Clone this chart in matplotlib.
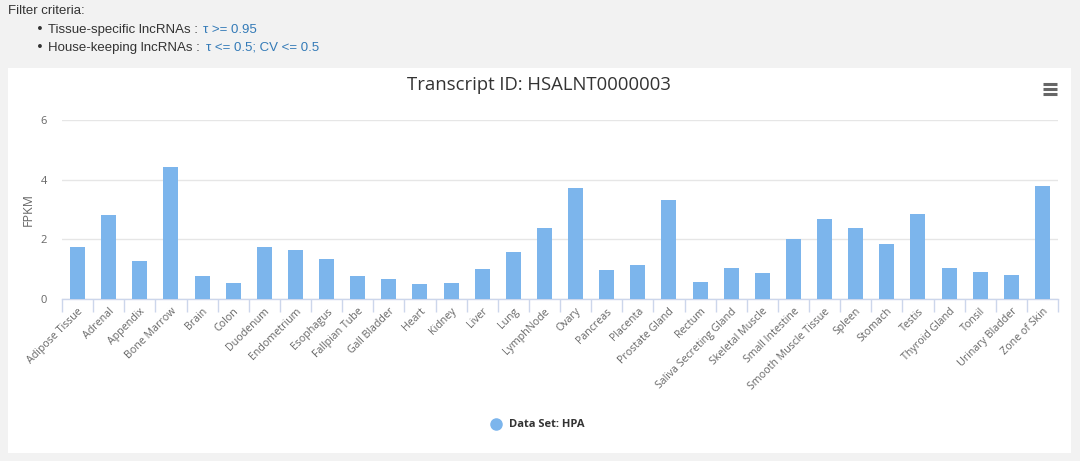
import matplotlib
matplotlib.use("Agg")
import matplotlib.pyplot as plt
from matplotlib.patches import Rectangle
from matplotlib.lines import Line2D
import numpy as np

categories = ["Adipose Tissue", "Adrenal", "Appendix", "Bone Marrow", "Brain", "Colon",
              "Duodenum", "Endometrium", "Esophagus", "Fallpian Tube", "Gall Bladder", "Heart",
              "Kidney", "Liver", "Lung", "LymphNode", "Ovary", "Pancreas", "Placenta",
              "Prostate Gland", "Rectum", "Saliva Secreting Gland", "Skeletal Muscle",
              "Small Intestine", "Smooth Muscle Tissue", "Spleen", "Stomach", "Testis",
              "Thyroid Gland", "Tonsil", "Urinary Bladder", "Zone of Skin"]
fpkm = [1.75, 2.82, 1.28, 4.43, 0.77, 0.54, 1.74, 1.64, 1.34, 0.77, 0.67, 0.50,
        0.54, 1.00, 1.58, 2.38, 3.72, 0.97, 1.14, 3.32, 0.57, 1.04, 0.87, 2.01,
        2.68, 2.38, 1.84, 2.85, 1.04, 0.90, 0.80, 3.79]
yticks = [0, 2, 4, 6]
series_name = "Data Set: HPA"
title = "Transcript ID: HSALNT0000003"

W, H = 1080, 461
fig = plt.figure(figsize=(W / 100, H / 100), dpi=100)
fig.patch.set_facecolor("#f2f2f2")

# white panel
fig.patches.append(Rectangle((8 / W, 1 - 453 / H), (1071 - 8) / W, (453 - 68) / H,
                             transform=fig.transFigure, facecolor="white", edgecolor="none",
                             zorder=-10))

# filter criteria text
fig.text(8 / W, 1 - 11 / H, "Filter criteria:", fontsize=9.5, color="#333333", va="center",
         family="Liberation Sans")
fig.text(36 / W, 1 - 30 / H, "•", fontsize=9.5, color="#333333", va="center", family="DejaVu Sans")
fig.text(36 / W, 1 - 48 / H, "•", fontsize=9.5, color="#333333", va="center", family="DejaVu Sans")
fig.text(48 / W, 1 - 30 / H, "Tissue-specific lncRNAs :", fontsize=9.5, color="#333333",
         va="center", family="Liberation Sans")
fig.text(48 / W, 1 - 48 / H, "House-keeping lncRNAs :", fontsize=9.5, color="#333333",
         va="center", family="Liberation Sans")
fig.text(203 / W, 1 - 30 / H, "τ >= 0.95", fontsize=9.5, color="#337ab7", va="center",
         family=["Liberation Sans", "DejaVu Sans"])
fig.text(206 / W, 1 - 48 / H, "τ <= 0.5; CV <= 0.5", fontsize=9.5, color="#337ab7", va="center",
         family=["Liberation Sans", "DejaVu Sans"])

# title
fig.text(539 / W, 1 - 85 / H, title, fontsize=13.3, color="#333333", ha="center", va="center",
         family="Open Sans")

# hamburger icon
for yy in (84, 89, 94):
    fig.lines.append(Line2D([1043 / W, 1057 / W], [1 - yy / H, 1 - yy / H], transform=fig.transFigure,
                            color="#666666", linewidth=2.2, solid_capstyle="butt"))

left, right = 62 / W, 1058 / W
bottom, top = 1 - 299 / H, 1 - 120 / H
ax = fig.add_axes([left, bottom, right - left, top - bottom])
ax.set_facecolor("white")
x = np.arange(len(categories))
ax.bar(x, fpkm, width=0.48, color="#7cb5ec", zorder=3)
ax.set_xlim(-0.5, len(categories) - 0.5)
ax.set_ylim(0, 6)
ax.set_yticks(yticks)
ax.set_yticklabels([str(v) for v in yticks], fontsize=8, color="#666666", family="Open Sans")
ax.tick_params(axis="y", length=0, pad=11)
ax.grid(axis="y", color="#e6e6e6", linewidth=1, zorder=0)
for s in ("top", "right", "left"):
    ax.spines[s].set_visible(False)
ax.spines["bottom"].set_color("#ccd6eb")
ax.spines["bottom"].set_linewidth(1)

ax.set_xticks(x)
ax.set_xticklabels(categories, rotation=45, ha="right", rotation_mode="anchor",
                   fontsize=7.7, color="#666666", family="Open Sans")
ax.tick_params(axis="x", which="major", length=0, pad=5)
ax.set_xticks(np.arange(len(categories) + 1) - 0.5, minor=True)
ax.tick_params(axis="x", which="minor", length=9, color="#ccd6eb", width=1)

ax.set_ylabel("FPKM", fontsize=9, color="#666666", family="Open Sans")
ax.yaxis.set_label_coords((35 - 62) / (1058 - 62), 0.5)

# legend
fig.lines.append(Line2D([496 / W], [1 - 424 / H], transform=fig.transFigure, marker="o",
                        markersize=8, color="#7cb5ec", linestyle="none"))
fig.text(509 / W, 1 - 424 / H, series_name, fontsize=8, color="#333333", fontweight="bold",
         va="center", family="Open Sans")

fig.savefig("out.png", dpi=100, facecolor=fig.get_facecolor())
